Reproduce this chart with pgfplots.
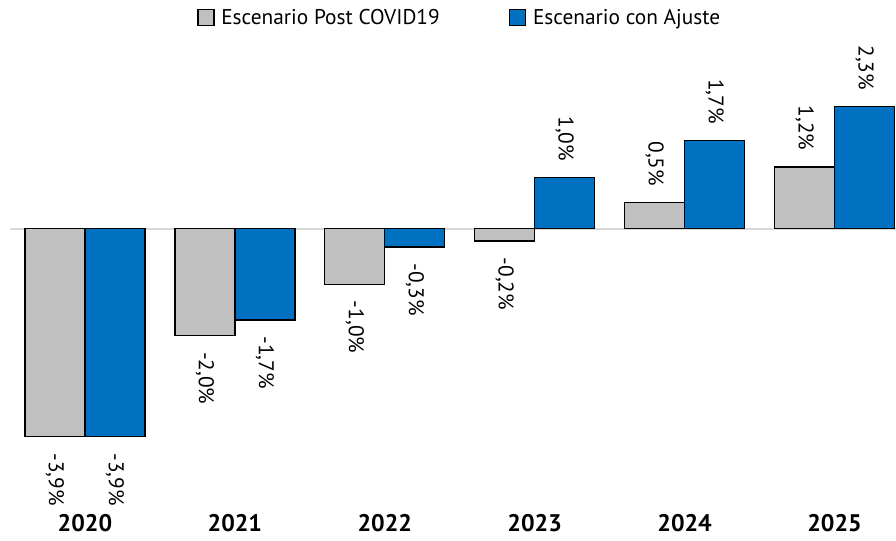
\documentclass[border=0pt]{standalone}
\usepackage{pgfplots}
\pgfplotsset{compat=1.18}
\usepackage{fontspec}
\setmainfont{PT Sans}
\usepackage{graphicx}
\definecolor{cgray}{RGB}{192,192,192}
\definecolor{cblue}{RGB}{0,112,192}
\definecolor{zline}{RGB}{217,217,217}
\begin{document}
\begin{tikzpicture}
\useasboundingbox (-7.5pt,-21.4pt) rectangle (664.5pt,383.6pt);
\begin{axis}[
  at={(0,0)}, anchor=south west,
  scale only axis, width=664.5pt, height=340pt,
  xmin=-0.5, xmax=5.41, ymin=-5.3, ymax=3.2,
  clip=false,
  axis line style={draw=none},
  tick style={draw=none},
  major tick length=0pt,
  ytick=\empty,
  extra y ticks={0},
  extra y tick labels={},
  extra y tick style={grid=major, major grid style={draw=zline, line width=1.1pt}},
  xtick={0,1,2,3,4,5},
  xticklabels={2020,2021,2022,2023,2024,2025},
  xticklabel style={font=\fontsize{18}{18}\selectfont\bfseries, inner sep=2pt},
  ybar=0pt, bar width=0.4,
  nodes near coords={\rotatebox{-90}{\pgfmathprintnumber{\pgfplotspointmeta}\%}},
  nodes near coords style={font=\fontsize{16}{16}\selectfont, inner sep=0pt, inner ysep=12pt, text=black},
  /pgf/number format/fixed,
  /pgf/number format/fixed zerofill,
  /pgf/number format/precision=1,
  /pgf/number format/use comma,
  /pgf/number format/assume math mode=true,
  legend style={at={(0.508,1)}, anchor=center, yshift=30pt, draw=none, fill=none,
    legend columns=2, font=\fontsize{16}{16}\selectfont,
    /tikz/every even column/.append style={column sep=50pt}},
  legend image code/.code={\draw[#1, draw=black, line width=1pt] (0pt,-5.5pt) rectangle (12pt,6.5pt); \path (15pt,0pt);},
]
\addplot[fill=cgray, draw=black, line width=1pt] coordinates {(0,-3.9) (1,-2.0) (2,-1.04) (3,-0.23) (4,0.49) (5,1.16)};
\addplot[fill=cblue, draw=black, line width=1pt] coordinates {(0,-3.9) (1,-1.71) (2,-0.34) (3,0.96) (4,1.66) (5,2.29)};
\legend{Escenario Post COVID19, Escenario con Ajuste}
\end{axis}
\end{tikzpicture}
\end{document}
